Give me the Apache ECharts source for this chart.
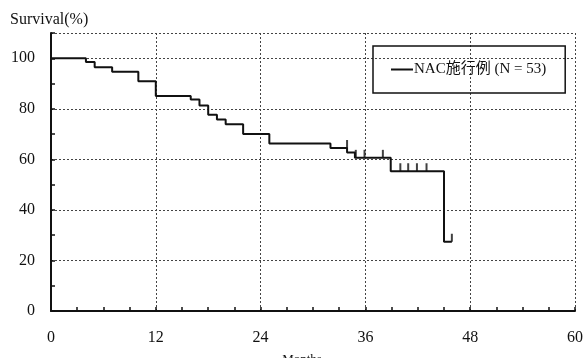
<!DOCTYPE html>
<html>
<head>
    <meta charset="UTF-8">
    <title>Survival</title>
    <style type="text/css">
        body { margin: 0; background: #fff; }
        #mychart { width: 583px; height: 358px; }
    </style>
</head>
<body>
<div id="mychart"></div>
<script src="https://cdn.jsdelivr.net/npm/echarts@6/dist/echarts.min.js"></script>
<script>
    // step points: month where survival changes, survival (%) after the drop
    var stepMonths = [0, 4, 5, 7, 10, 12, 16, 17, 18, 19, 20, 22, 25, 32, 33.9, 34.8, 38.9, 45, 45.9];
    var stepSurvival = [100, 98.5, 96.4, 94.7, 90.9, 85.1, 83.7, 81.3, 77.7, 75.8, 73.9, 70, 66.3, 64.5, 62.7, 60.6, 55.3, 27.4, 27.4];
    // censored cases (tick marks)
    var censorMonths = [33.9, 34.9, 35.9, 38.0, 40.0, 40.9, 41.9, 43.0, 45.9];
    var censorSurvival = [64.5, 60.6, 60.6, 60.6, 55.3, 55.3, 55.3, 55.3, 27.4];
    var xTicks = [0, 12, 24, 36, 48, 60];
    var yTicks = [0, 20, 40, 60, 80, 100];

    var seriesName = 'NAC施行例 (N = 53)';
    var font = '"Liberation Serif", "Noto Sans CJK JP", serif';

    var curve = stepMonths.map(function (m, i) { return [m, stepSurvival[i]]; });
    var censors = censorMonths.map(function (m, i) { return [m, censorSurvival[i]]; });

    var gridLine = { show: true, lineStyle: { color: '#444', width: 1, type: [2, 2] } };

    var mychart = echarts.init(document.getElementById('mychart'));
    mychart.setOption({
        backgroundColor: '#fff',
        animation: false,
        textStyle: { fontFamily: font, color: '#111' },
        title: {
            text: 'Survival(%)',
            left: 10, top: 12, padding: 0,
            textStyle: { fontFamily: font, fontSize: 16, fontWeight: 'normal', color: '#111' }
        },
        legend: {
            data: [seriesName],
            left: 373, top: 46,
            padding: [16, 19, 16, 18],
            borderColor: '#111', borderWidth: 1.5,
            icon: 'rect', itemWidth: 22, itemHeight: 2,
            textStyle: { fontFamily: font, fontSize: 15, color: '#111', padding: [0, 0, 0, -4] }
        },
        grid: { left: 51, right: 8, top: 33, bottom: 47, outerBoundsMode: 'none' },
        xAxis: {
            type: 'value', min: 0, max: 60, interval: 12,
            name: 'Months', nameLocation: 'middle', nameGap: 42,
            nameTextStyle: { fontFamily: font, fontSize: 13, color: '#111', padding: [0, 22, 0, 0] },
            axisLine: { lineStyle: { color: '#111', width: 2 } },
            axisTick: { inside: true, length: 4, lineStyle: { color: '#111', width: 1.5 } },
            minorTick: { show: true, splitNumber: 4, length: 4, lineStyle: { color: '#111', width: 1.5 } },
            axisLabel: {
                fontFamily: font, fontSize: 16, color: '#111', margin: 19,
                formatter: function (v) { return xTicks.indexOf(v) >= 0 ? String(v) : ''; }
            },
            splitLine: gridLine
        },
        yAxis: {
            type: 'value', min: 0, max: 110, interval: 20,
            axisLine: { show: true, lineStyle: { color: '#111', width: 2 } },
            axisTick: { show: true, inside: true, length: 4, lineStyle: { color: '#111', width: 1.5 } },
            minorTick: { show: true, splitNumber: 2, length: 4, lineStyle: { color: '#111', width: 1.5 } },
            axisLabel: {
                fontFamily: font, fontSize: 16, color: '#111', margin: 16,
                formatter: function (v) { return yTicks.indexOf(v) >= 0 ? String(v) : ''; }
            },
            splitLine: gridLine
        },
        series: [
            {
                name: seriesName,
                type: 'line',
                step: 'end',
                data: curve,
                showSymbol: false,
                lineStyle: { color: '#111', width: 2 },
                itemStyle: { color: '#111' }
            },
            {
                name: 'censored',
                type: 'scatter',
                data: censors,
                symbol: 'rect',
                symbolSize: [2, 8],
                symbolOffset: [0, -4],
                itemStyle: { color: '#111' }
            }
        ]
    });
</script>
</body>
</html>
